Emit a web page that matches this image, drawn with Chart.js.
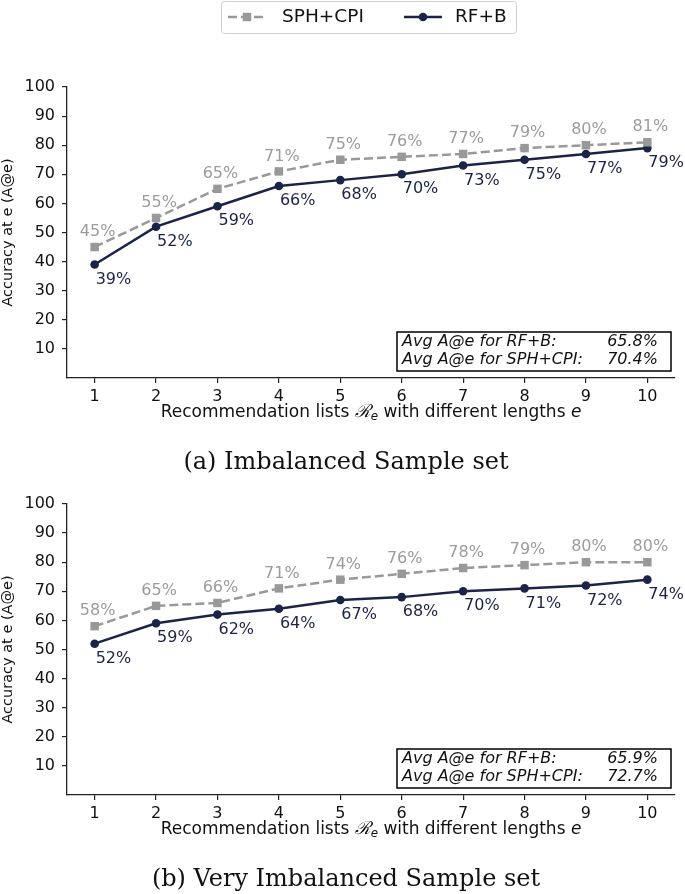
<!DOCTYPE html>
<html>
<head>
<meta charset="utf-8">
<script src="https://cdn.jsdelivr.net/npm/chart.js@4.4.1/dist/chart.umd.min.js"></script>
<style>
  html, body { margin: 0; padding: 0; background: #fff; }
  .panel { position: absolute; left: 0; width: 685px; }
  #panelA { top: 0; height: 475px; }
  #panelB { top: 475px; height: 419px; }
</style>
</head>
<body>
<div class="panel" id="panelA"><canvas id="chartA" width="685" height="475"></canvas></div>
<div class="panel" id="panelB"><canvas id="chartB" width="685" height="419"></canvas></div>
<script>
// data
const lengths = [1, 2, 3, 4, 5, 6, 7, 8, 9, 10];
const yTickValues = [10, 20, 30, 40, 50, 60, 70, 80, 90, 100];
const seriesNames = ["SPH+CPI", "RF+B"];

const sphImbalanced = [45, 55, 65, 71, 75, 76, 77, 79, 80, 81];
const rfImbalanced = [39, 52, 59, 66, 68, 70, 73, 75, 77, 79];
const sphVeryImbalanced = [58, 65, 66, 71, 74, 76, 78, 79, 80, 80];
const rfVeryImbalanced = [52, 59, 62, 64, 67, 68, 70, 71, 72, 74];

const avgImbalanced = { rf: "65.8%", sph: "70.4%" };
const avgVeryImbalanced = { rf: "65.9%", sph: "72.7%" };

const captions = ["(a) Imbalanced Sample set", "(b) Very Imbalanced Sample set"];

const SPH_COLOR = "#999999";
const SPH_LABEL = "#9c9c9c";
const RF_COLOR = "#1b2447";
const AXIS_COLOR = "#222222";

Chart.defaults.font.family = "'DejaVu Sans', sans-serif";
Chart.defaults.color = "#111";

// value labels next to every point
const pointLabels = {
  id: "pointLabels",
  afterDatasetsDraw(chart) {
    const ctx = chart.ctx;
    ctx.save();
    ctx.font = "16px 'DejaVu Sans'";
    ctx.textBaseline = "middle";
    chart.data.datasets.forEach((ds, di) => {
      const meta = chart.getDatasetMeta(di);
      meta.data.forEach((pt, i) => {
        const txt = ds.data[i].y + "%";
        if (di === 0) {
          ctx.fillStyle = SPH_LABEL;
          ctx.textAlign = "center";
          ctx.fillText(txt, pt.x + 3, pt.y - 15);
        } else {
          ctx.fillStyle = RF_COLOR;
          ctx.textAlign = "left";
          ctx.fillText(txt, pt.x + 1, pt.y + 15);
        }
      });
    });
    ctx.restore();
  },
};

// box with the averages, bottom right of the plot
const avgBox = {
  id: "avgBox",
  afterDraw(chart, args, opts) {
    const ctx = chart.ctx;
    const { right, bottom } = chart.chartArea;
    const x1 = right - 4, x0 = x1 - 274;
    const y1 = bottom - 7, y0 = y1 - 39;
    ctx.save();
    ctx.strokeStyle = "#000";
    ctx.lineWidth = 1.5;
    ctx.strokeRect(x0, y0, x1 - x0, y1 - y0);
    ctx.font = "italic 16px 'DejaVu Sans'";
    ctx.fillStyle = "#111";
    ctx.textBaseline = "middle";
    ctx.textAlign = "left";
    ctx.fillText("Avg A@e for RF+B:", x0 + 5, y0 + 10);
    ctx.fillText("Avg A@e for SPH+CPI:", x0 + 5, y0 + 28);
    ctx.textAlign = "right";
    ctx.fillText(opts.rf, x1 - 13, y0 + 10);
    ctx.fillText(opts.sph, x1 - 13, y0 + 28);
    ctx.restore();
  },
};

// x axis title with the script R and subscript
const xTitle = {
  id: "xTitle",
  afterDraw(chart) {
    const ctx = chart.ctx;
    const { left, right, bottom } = chart.chartArea;
    const size = 17;
    const parts = [
      { t: "Recommendation lists ", f: `${size}px 'DejaVu Sans'`, dy: 0 },
      { t: "\u211B", f: `italic ${size + 1}px 'DejaVu Serif'`, dy: 0 },
      { t: "e", f: `italic ${size * 0.7}px 'DejaVu Sans'`, dy: 3 },
      { t: " with different lengths ", f: `${size}px 'DejaVu Sans'`, dy: 0 },
      { t: "e", f: `italic ${size}px 'DejaVu Sans'`, dy: 0 },
    ];
    ctx.save();
    ctx.fillStyle = "#111";
    ctx.textBaseline = "alphabetic";
    ctx.textAlign = "left";
    let total = 0;
    parts.forEach((p) => {
      ctx.font = p.f;
      p.w = ctx.measureText(p.t).width;
      total += p.w;
    });
    let x = (left + right) / 2 - total / 2;
    const y = bottom + 39;
    parts.forEach((p) => {
      ctx.font = p.f;
      ctx.fillText(p.t, x, y + p.dy);
      x += p.w;
    });
    ctx.restore();
  },
};

// caption below each panel
const caption = {
  id: "caption",
  afterDraw(chart, args, opts) {
    const ctx = chart.ctx;
    ctx.save();
    ctx.font = "24px 'DejaVu Serif'";
    ctx.fillStyle = "#111";
    ctx.textAlign = "center";
    ctx.textBaseline = "middle";
    ctx.fillText(opts.text, 346, chart.chartArea.bottom + 85);
    ctx.restore();
  },
};

// framed legend above the first panel
const topLegend = {
  id: "topLegend",
  afterDraw(chart, args, opts) {
    if (!opts.show) return;
    const ctx = chart.ctx;
    ctx.save();
    ctx.strokeStyle = "#cfcfcf";
    ctx.lineWidth = 1;
    ctx.fillStyle = "#fff";
    ctx.beginPath();
    ctx.roundRect(221.5, 1.5, 295, 32, 3);
    ctx.fill();
    ctx.stroke();
    const slots = [{ x: 228, tx: 282 }, { x: 404, tx: 455 }];
    const cy = 17;
    chart.data.datasets.forEach((ds, di) => {
      const s = slots[di];
      ctx.strokeStyle = ds.borderColor;
      ctx.lineWidth = ds.borderWidth;
      ctx.setLineDash(ds.borderDash || []);
      ctx.beginPath();
      ctx.moveTo(s.x, cy);
      ctx.lineTo(s.x + 38, cy);
      ctx.stroke();
      ctx.setLineDash([]);
      ctx.fillStyle = ds.pointBackgroundColor;
      Chart.helpers.drawPoint(ctx, { pointStyle: ds.pointStyle, radius: ds.pointRadius, rotation: 0, borderWidth: 0 }, s.x + 19, cy);
      ctx.fillStyle = "#111";
      ctx.font = "18.5px 'DejaVu Sans'";
      ctx.textBaseline = "middle";
      ctx.textAlign = "left";
      ctx.fillText(ds.label, s.tx, cy);
    });
    ctx.restore();
  },
};

function points(values) {
  return lengths.map((e, i) => ({ x: e, y: values[i] }));
}

function makeChart(canvasId, sph, rf, avg, captionText, pad, showLegend) {
  return new Chart(document.getElementById(canvasId), {
    type: "line",
    data: {
      datasets: [
        {
          label: seriesNames[0],
          data: points(sph),
          borderColor: SPH_COLOR,
          backgroundColor: SPH_COLOR,
          borderWidth: 2.5,
          borderDash: [9, 4],
          tension: 0,
          pointStyle: "rect",
          pointRadius: 6,
          pointBackgroundColor: SPH_COLOR,
          pointBorderWidth: 0,
        },
        {
          label: seriesNames[1],
          data: points(rf),
          borderColor: RF_COLOR,
          backgroundColor: RF_COLOR,
          borderWidth: 2.5,
          tension: 0,
          pointStyle: "circle",
          pointRadius: 4.3,
          pointBackgroundColor: RF_COLOR,
          pointBorderWidth: 0,
        },
      ],
    },
    options: {
      responsive: false,
      animation: false,
      devicePixelRatio: 1,
      layout: { padding: pad },
      scales: {
        x: {
          type: "linear",
          min: 0.55,
          max: 10.45,
          afterBuildTicks: (scale) => {
            scale.ticks = lengths.map((v) => ({ value: v }));
          },
          afterFit: (scale) => {
            scale.height = 40;
          },
          ticks: { font: { size: 16 }, color: "#111", padding: 4, maxRotation: 0 },
          grid: { drawOnChartArea: false, drawTicks: true, tickLength: 5, color: AXIS_COLOR, lineWidth: 1.2 },
          border: { display: true, color: AXIS_COLOR, width: 1.3 },
        },
        y: {
          min: 0,
          max: 100,
          afterBuildTicks: (scale) => {
            scale.ticks = yTickValues.map((v) => ({ value: v }));
          },
          afterFit: (scale) => {
            scale.width = 67;
          },
          ticks: { font: { size: 16 }, color: "#111", padding: 7 },
          grid: { drawOnChartArea: false, drawTicks: true, tickLength: 5, color: AXIS_COLOR, lineWidth: 1.2 },
          border: { display: true, color: AXIS_COLOR, width: 1.3 },
          title: {
            display: true,
            text: "Accuracy at e (A@e)",
            font: { size: 14.5 },
            color: "#111",
            padding: 0,
          },
        },
      },
      plugins: {
        legend: { display: false },
        tooltip: { enabled: false },
        avgBox: avg,
        caption: { text: captionText },
        topLegend: { show: showLegend },
      },
    },
    plugins: [pointLabels, avgBox, xTitle, caption, topLegend],
  });
}

makeChart("chartA", sphImbalanced, rfImbalanced, avgImbalanced, captions[0],
  { top: 87, left: 0, right: 10, bottom: 57 }, true);
makeChart("chartB", sphVeryImbalanced, rfVeryImbalanced, avgVeryImbalanced, captions[1],
  { top: 29, left: 0, right: 10, bottom: 59 }, false);
</script>
</body>
</html>
